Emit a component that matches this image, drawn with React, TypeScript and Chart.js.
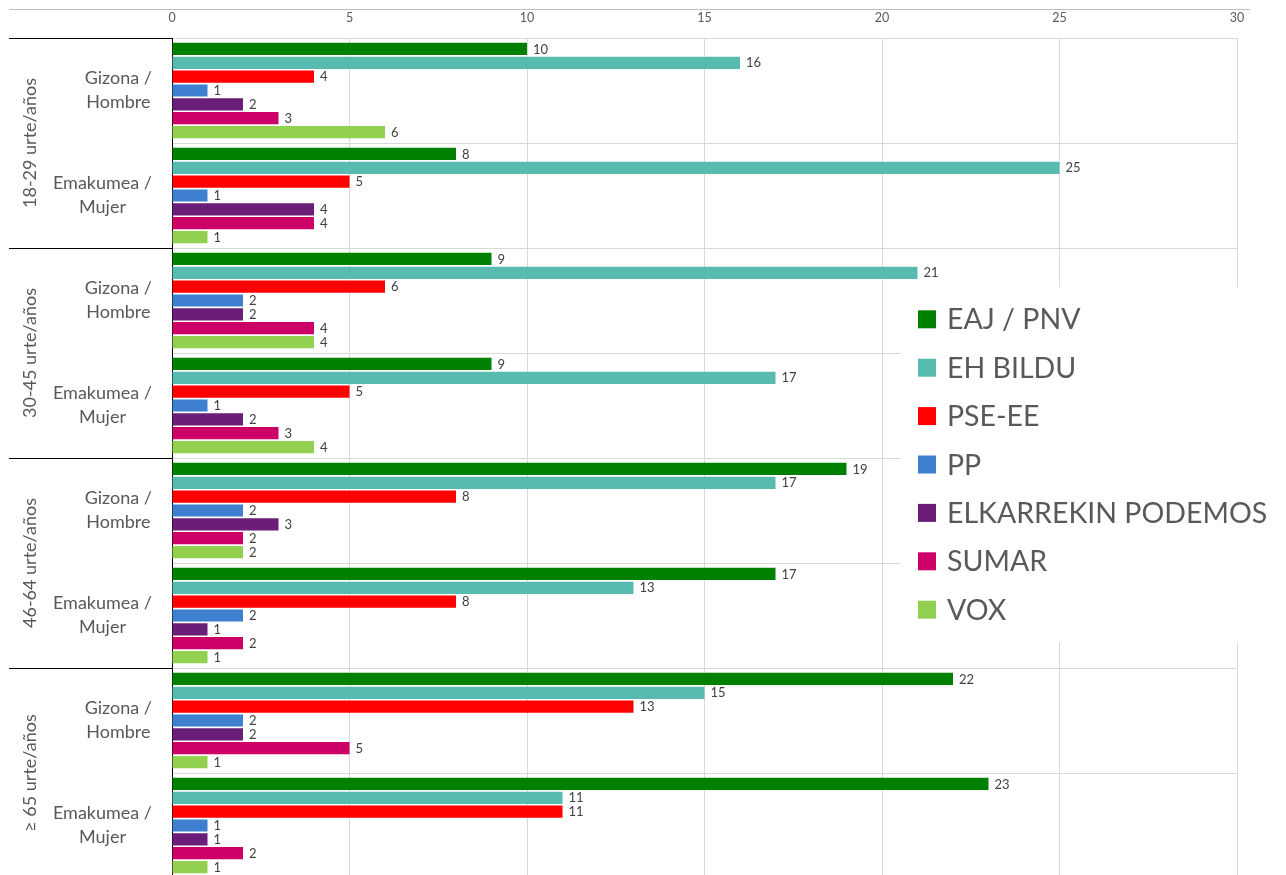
import React, { useEffect, useRef } from "react";
import { Chart, registerables } from "chart.js";

Chart.register(...registerables);

const categories = [
  "18-29 Gizona / Hombre",
  "18-29 Emakumea / Mujer",
  "30-45 Gizona / Hombre",
  "30-45 Emakumea / Mujer",
  "46-64 Gizona / Hombre",
  "46-64 Emakumea / Mujer",
  "≥ 65 Gizona / Hombre",
  "≥ 65 Emakumea / Mujer",
];
const genderLabels = [
  ["Gizona /", "Hombre"],
  ["Emakumea /", "Mujer"],
];
const ageGroups = ["18-29 urte/años", "30-45 urte/años", "46-64 urte/años", "≥ 65 urte/años"];

const parties = ["EAJ / PNV", "EH BILDU", "PSE-EE", "PP", "ELKARREKIN PODEMOS", "SUMAR", "VOX"];
const partyColors = ["#008000", "#57BBAF", "#FF0000", "#3F7FCF", "#6B1E78", "#CC0066", "#92D050"];

const eajPnv = [10, 8, 9, 9, 19, 17, 22, 23];
const ehBildu = [16, 25, 21, 17, 17, 13, 15, 11];
const pseEe = [4, 5, 6, 5, 8, 8, 13, 11];
const pp = [1, 1, 2, 1, 2, 2, 2, 1];
const podemos = [2, 4, 2, 2, 3, 1, 2, 1];
const sumar = [3, 4, 4, 3, 2, 2, 5, 2];
const vox = [6, 1, 4, 4, 2, 1, 1, 1];
const seriesValues = [eajPnv, ehBildu, pseEe, pp, podemos, sumar, vox];

const xMin = 0;
const xMax = 30;
const xStep = 5;

const FONT = "Lato";
const TEXT = "#595959";

const customPlugin = {
  id: "customDecor",
  afterDraw(chart: any) {
    const ctx = chart.ctx as CanvasRenderingContext2D;
    const { left, top, bottom } = chart.chartArea;
    const n = categories.length;
    const h = (bottom - top) / n;
    ctx.save();

    // top border line
    ctx.strokeStyle = "#BFBFBF";
    ctx.lineWidth = 1;
    ctx.beginPath();
    ctx.moveTo(1, 1.5);
    ctx.lineTo(1242, 1.5);
    ctx.stroke();

    // group separators
    ctx.strokeStyle = "#000000";
    for (let g = 0; g <= ageGroups.length; g++) {
      const yy = Math.round(top + g * 2 * h) + 0.5;
      ctx.beginPath();
      ctx.moveTo(1, yy);
      ctx.lineTo(left, yy);
      ctx.stroke();
    }

    // gender labels
    ctx.fillStyle = TEXT;
    ctx.font = `18px ${FONT}`;
    ctx.textBaseline = "middle";
    ctx.textAlign = "center";
    for (let i = 0; i < n; i++) {
      const lines = genderLabels[i % 2];
      const cy = top + (i + 0.5) * h;
      const w = Math.max(...lines.map((l) => ctx.measureText(l).width));
      const rightX = left - 20;
      const cx = rightX - w / 2;
      ctx.fillText(lines[0], cx, cy - 12);
      ctx.fillText(lines[1], cx, cy + 12);
    }

    // age group labels (rotated)
    for (let g = 0; g < ageGroups.length; g++) {
      const cy = top + (2 * g + 1) * h;
      ctx.save();
      ctx.translate(22, cy);
      ctx.rotate(-Math.PI / 2);
      ctx.textAlign = "center";
      ctx.textBaseline = "middle";
      ctx.fillText(ageGroups[g], 0, 0);
      ctx.restore();
    }

    // data labels
    ctx.font = `13px ${FONT}`;
    ctx.fillStyle = "#404040";
    ctx.textAlign = "left";
    ctx.textBaseline = "middle";
    chart.data.datasets.forEach((ds: any, di: number) => {
      const meta = chart.getDatasetMeta(di);
      meta.data.forEach((el: any, i: number) => {
        ctx.fillText(String(ds.data[i]), el.x + 6, el.y + 0.5);
      });
    });

    // legend
    ctx.fillStyle = "#FFFFFF";
    ctx.fillRect(893, 279, 377, 355);
    ctx.font = `28.5px ${FONT}`;
    ctx.textBaseline = "middle";
    parties.forEach((p, i) => {
      const cy = 311.3 + i * 48.4;
      ctx.fillStyle = partyColors[i];
      ctx.fillRect(910, cy - 9, 18, 18);
      ctx.fillStyle = TEXT;
      ctx.fillText(p, 939, cy + 1);
    });

    ctx.restore();
  },
};

export default function App() {
  const ref = useRef<HTMLCanvasElement | null>(null);
  useEffect(() => {
    if (!ref.current) return;
    const chart = new Chart(ref.current, {
      type: "bar",
      data: {
        labels: categories,
        datasets: parties.map((p, i) => ({
          label: p,
          data: seriesValues[i],
          backgroundColor: partyColors[i],
          borderWidth: 0,
          categoryPercentage: 0.924,
          barPercentage: 0.88,
        })),
      },
      options: {
        indexAxis: "y",
        responsive: false,
        animation: false,
        layout: { padding: { left: 0, right: 41, top: 0, bottom: 0 } },
        plugins: {
          legend: { display: false },
          tooltip: { enabled: false },
        },
        scales: {
          x: {
            position: "top",
            min: xMin,
            max: xMax,
            ticks: {
              stepSize: xStep,
              color: TEXT,
              font: { family: FONT, size: 12.5 },
              padding: 13,
            },
            grid: { color: "#D9D9D9", drawTicks: false, lineWidth: 1 },
            border: { display: false },
            afterFit: (scale: any) => {
              scale.height = 30;
            },
          },
          y: {
            ticks: { display: false },
            grid: { color: "#D9D9D9", drawTicks: false, offset: true },
            border: { display: true, color: "#000000", width: 1 },
            afterFit: (scale: any) => {
              scale.width = 164;
            },
          },
        },
      },
      plugins: [customPlugin],
    } as any);
    return () => chart.destroy();
  }, []);
  return (
    <div style={{ width: 1270, height: 867, overflow: "hidden" }}>
      <canvas ref={ref} width={1270} height={870} style={{ display: "block" }} />
    </div>
  );
}
